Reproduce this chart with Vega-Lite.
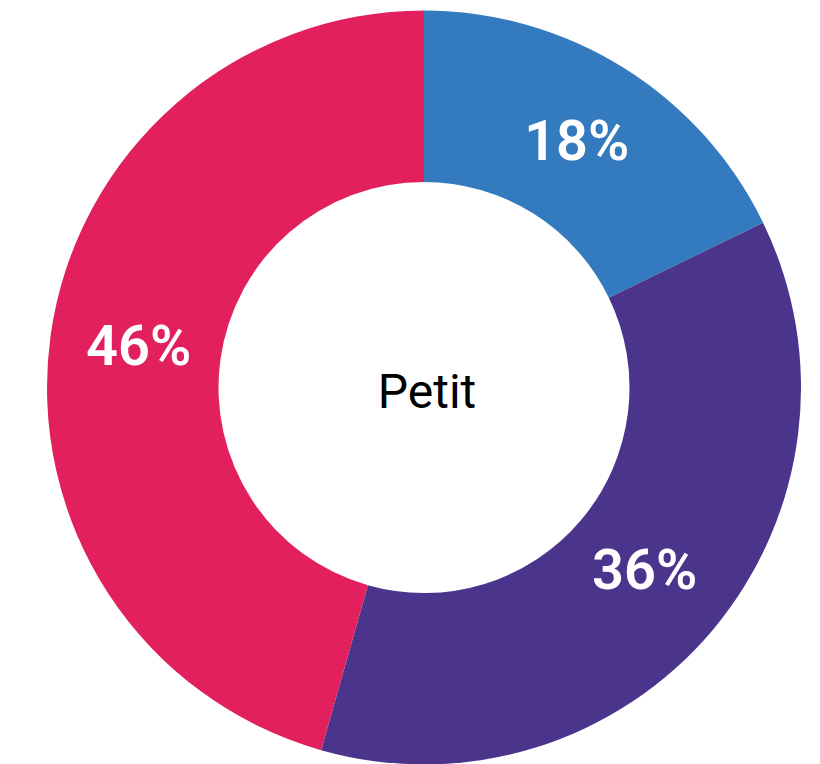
{
  "$schema": "https://vega.github.io/schema/vega-lite/v6.json",
  "width": 754,
  "height": 754,
  "padding": {"left": 47, "top": 10.5, "right": 0, "bottom": 0},
  "autosize": {"type": "pad"},
  "background": "white",
  "config": {"view": {"stroke": null}},
  "layer": [
    {
      "data": {"values": [
        {"segment": "A", "order": 1, "value": 17.8, "label": "18%"},
        {"segment": "B", "order": 2, "value": 36.6, "label": "36%"},
        {"segment": "C", "order": 3, "value": 45.6, "label": "46%"}
      ]},
      "layer": [
        {
          "mark": {"type": "arc", "innerRadius": 205.5, "outerRadius": 377},
          "encoding": {
            "theta": {"field": "value", "type": "quantitative", "stack": true},
            "order": {"field": "order", "type": "quantitative"},
            "color": {"field": "segment", "type": "nominal", "legend": null,
              "scale": {"domain": ["A", "B", "C"], "range": ["#347ABE", "#4B358C", "#E1205D"]}}
          }
        },
        {
          "mark": {"type": "text", "radius": 288, "font": "Roboto", "fontSize": 56, "fontWeight": 600, "fill": "white", "baseline": "middle", "align": "center"},
          "encoding": {
            "theta": {"field": "value", "type": "quantitative", "stack": true},
            "order": {"field": "order", "type": "quantitative"},
            "text": {"field": "label", "type": "nominal"}
          }
        }
      ]
    },
    {
      "data": {"values": [{"center": "Petit"}]},
      "mark": {"type": "text", "font": "Roboto", "fontSize": 48, "fontWeight": 400, "fill": "black", "baseline": "middle", "align": "center", "dx": 3, "dy": 6},
      "encoding": {"text": {"field": "center", "type": "nominal"}}
    }
  ]
}
